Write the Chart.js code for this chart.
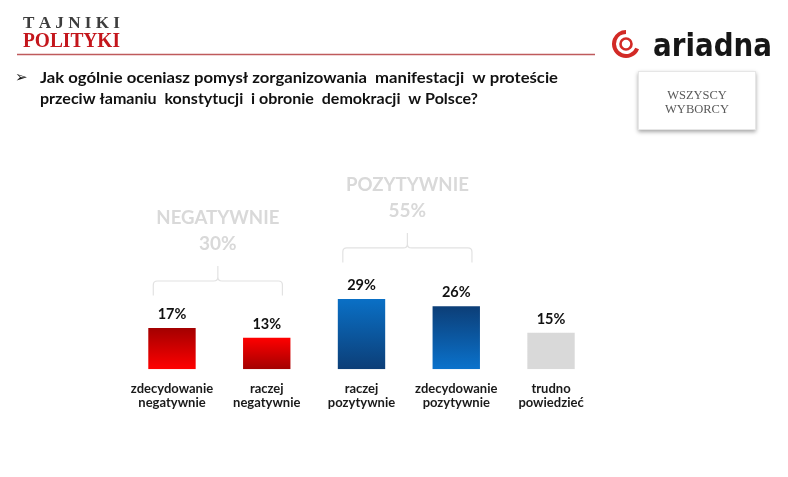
<!DOCTYPE html>
<html><head><meta charset="utf-8">
<script src="https://cdn.jsdelivr.net/npm/chart.js@4.4.1/dist/chart.umd.min.js"></script>
<style>html,body{margin:0;padding:0;background:#fff;}canvas{display:block;}</style>
</head><body>
<canvas id="c" width="788" height="477"></canvas>
<script>
const categories = [["zdecydowanie","negatywnie"],["raczej","negatywnie"],["raczej","pozytywnie"],["zdecydowanie","pozytywnie"],["trudno","powiedzieć"]];
const values = [17, 13, 29, 26, 15];
const groupLabels = ["NEGATYWNIE", "POZYTYWNIE"];
const groupTotals = ["30%", "55%"];
const groupRanges = [[0,1],[2,3]];
const bracketGaps = [32.5, 36.5];
const titleLines = ["Jak ogólnie oceniasz pomysł zorganizowania  manifestacji  w proteście", "przeciw łamaniu  konstytucji  i obronie  demokracji  w Polsce?"];
const barColors = [["#a30000","#ff0000"],["#ff0000","#a30000"],["#0a70c6","#0c3e77"],["#0c3e77","#0a72cc"],["#d9d9d9","#d9d9d9"]];

function fitText(ctx, text, x, y, w, weight, family, base, align){
  ctx.font = weight + " " + base + "px " + family;
  const m = ctx.measureText(text).width;
  const sx = w / m;
  ctx.save();
  ctx.translate(x, y);
  ctx.scale(sx, 1);
  ctx.textAlign = align || "left";
  ctx.fillText(text, 0, 0);
  ctx.restore();
}

const decor = {
  id: "decor",
  afterDraw(chart){
    const ctx = chart.ctx;
    ctx.save();
    // header
    ctx.fillStyle = "#3d3d3d";
    ctx.textBaseline = "alphabetic";
    fitText(ctx, "T A J N I K I", 23, 27.5, 97, "bold", "'Liberation Serif'", 17);
    ctx.fillStyle = "#c4161c";
    fitText(ctx, "POLITYKI", 23, 47, 97, "bold", "'Liberation Serif'", 21);
    ctx.strokeStyle = "#bf5a5c"; ctx.lineWidth = 1.5;
    ctx.beginPath(); ctx.moveTo(17, 54.5); ctx.lineTo(595, 54.5); ctx.stroke();
    // ariadna logo
    ctx.strokeStyle = "#d22a26"; ctx.lineWidth = 4;
    ctx.beginPath(); ctx.arc(626, 44, 12, Math.PI*0.12, Math.PI*1.5); ctx.stroke();
    ctx.lineWidth = 2.6;
    ctx.beginPath(); ctx.arc(626, 44, 5.5, 0, Math.PI*2); ctx.stroke();
    ctx.fillStyle = "#161616";
    fitText(ctx, "ariadna", 653, 55.5, 119, "bold", "'DejaVu Sans'", 32);
    // question
    ctx.fillStyle = "#111";
    ctx.font = "bold 15px 'DejaVu Sans'";
    ctx.fillText("\u27A2", 15, 82);
    fitText(ctx, titleLines[0], 40, 82.5, 518, "bold", "Lato", 15.5);
    fitText(ctx, titleLines[1], 40, 104, 438, "bold", "Lato", 15.5);
    // box
    ctx.save();
    ctx.shadowColor = "rgba(0,0,0,0.35)"; ctx.shadowBlur = 4; ctx.shadowOffsetY = 2;
    ctx.fillStyle = "#fff";
    ctx.fillRect(638, 71, 118, 59);
    ctx.restore();
    ctx.strokeStyle = "#e6e6e6"; ctx.lineWidth = 1;
    ctx.strokeRect(638.5, 71.5, 117, 58);
    ctx.fillStyle = "#595959";
    ctx.textAlign = "center";
    ctx.font = "12.5px 'Liberation Serif'";
    ctx.fillText("WSZYSCY", 697, 98.5);
    ctx.fillText("WYBORCY", 697, 112.5);
    // group brackets
    const meta = chart.getDatasetMeta(0);
    const ys = chart.scales.y;
    groupRanges.forEach((r, gi) => {
      const a = meta.data[r[0]], b = meta.data[r[1]];
      const x1 = a.x - a.width/2 + 5, x2 = b.x + b.width/2 - 8;
      const maxV = Math.max(...values.slice(r[0], r[1]+1));
      const yEnd = ys.getPixelForValue(maxV) - bracketGaps[gi];
      const yH = yEnd - 14.5, yTop = yH - 15, xc = (x1 + x2)/2, rr = 4;
      ctx.strokeStyle = "#e2e2e2"; ctx.lineWidth = 1.2;
      ctx.beginPath();
      ctx.moveTo(x1, yEnd); ctx.lineTo(x1, yH + rr);
      ctx.quadraticCurveTo(x1, yH, x1 + rr, yH);
      ctx.lineTo(xc - rr, yH); ctx.quadraticCurveTo(xc, yH, xc, yH - rr);
      ctx.lineTo(xc, yTop);
      ctx.moveTo(xc, yH - rr); ctx.quadraticCurveTo(xc, yH, xc + rr, yH);
      ctx.lineTo(x2 - rr, yH); ctx.quadraticCurveTo(x2, yH, x2, yH + rr);
      ctx.lineTo(x2, yEnd);
      ctx.stroke();
      ctx.fillStyle = "#d9d9d9";
      ctx.textBaseline = "middle";
      fitText(ctx, groupLabels[gi], xc, yTop - 48.5, 123, "bold", "Lato", 19, "center");
      ctx.font = "bold 19px Lato"; ctx.textAlign = "center";
      ctx.fillText(groupTotals[gi], xc, yTop - 22.5);
    });
    ctx.restore();
  },
  afterDatasetsDraw(chart){
    const ctx = chart.ctx;
    const meta = chart.getDatasetMeta(0);
    ctx.save();
    ctx.fillStyle = "#111";
    ctx.font = "bold 14.5px Lato";
    ctx.textAlign = "center"; ctx.textBaseline = "middle";
    meta.data.forEach((el, i) => { ctx.fillText(values[i] + "%", el.x, el.y - 13.5); });
    ctx.restore();
  }
};

new Chart(document.getElementById("c"), {
  type: "bar",
  data: {
    labels: categories,
    datasets: [{
      data: values,
      borderWidth: 0,
      barPercentage: 0.5,
      categoryPercentage: 1.0,
      backgroundColor(context){
        const chart = context.chart;
        const ca = chart.chartArea;
        const c = barColors[context.dataIndex];
        if (!ca) return c[0];
        const ys = chart.scales.y;
        const top = ys.getPixelForValue(values[context.dataIndex]);
        const bot = ys.getPixelForValue(0);
        const g = chart.ctx.createLinearGradient(0, top, 0, bot);
        g.addColorStop(0, c[0]); g.addColorStop(1, c[1]);
        return g;
      }
    }]
  },
  options: {
    responsive: false,
    animation: false,
    layout: { padding: { left: 124.6, right: 189.6, top: 272.2, bottom: 0 } },
    plugins: { legend: { display: false }, tooltip: { enabled: false } },
    scales: {
      y: { display: false, min: 0, max: 40 },
      x: {
        grid: { display: false }, border: { display: false },
        ticks: { color: "#1a1a1a", font: { family: "Lato", weight: "bold", size: 13, lineHeight: 1.08 }, padding: 5, maxRotation: 0 },
        afterFit(scale){ scale.height = 107.8; }
      }
    }
  },
  plugins: [decor]
});
</script>
</body></html>
